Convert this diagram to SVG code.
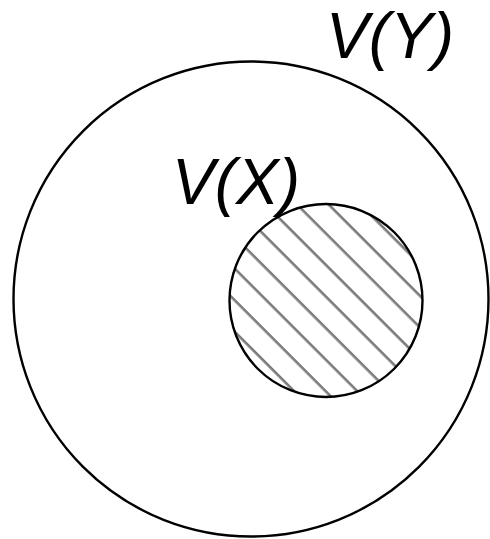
<svg xmlns="http://www.w3.org/2000/svg" width="490" height="539" viewBox="0 0 490 539">
  <style>
    .circ { fill: none; stroke: #000; stroke-width: 2.4; }
    .lbl { font-family: "Liberation Sans", Arial, sans-serif; font-style: italic; font-size: 64px; fill: #000; }
  </style>
  <defs>
    <pattern id="hatch" patternUnits="userSpaceOnUse" width="10" height="22.35" patternTransform="translate(13.3,0) rotate(45)">
      <line x1="-1" y1="11" x2="11" y2="11" stroke="#7a7a7a" stroke-width="2.6"/>
    </pattern>
  </defs>
  <rect width="490" height="539" fill="#fff"/>
  <g id="VY">
    <circle class="circ" cx="251" cy="299" r="237.5"/>
    <text class="lbl" x="326" y="58">V(Y)</text>
  </g>
  <g id="VX">
    <circle cx="326" cy="300.5" r="96.5" fill="url(#hatch)"/>
    <circle class="circ" cx="326" cy="300.5" r="96.5"/>
    <text class="lbl" x="172" y="204">V(X)</text>
  </g>
</svg>
